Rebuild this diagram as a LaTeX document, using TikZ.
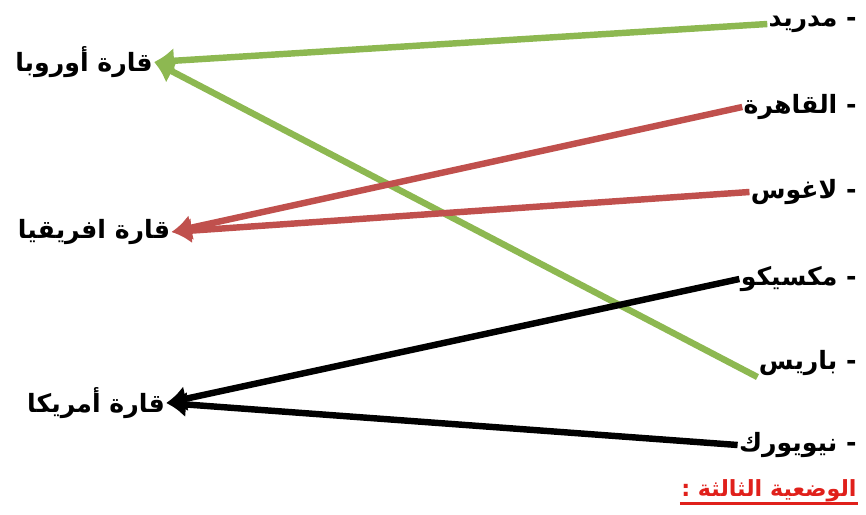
\documentclass[tikz,border=0pt]{standalone}
\usepackage{fontspec}
\usepackage{xcolor}
\usetikzlibrary{arrows.meta}
\TeXXeTstate=1
\newfontfamily\arabicfont[Script=Arabic]{DejaVu Sans}
\definecolor{LinkGreen}{HTML}{8DB851}
\definecolor{LinkRed}{HTML}{C0504D}
\definecolor{TitleRed}{HTML}{E0201B}

\begin{document}
\begin{tikzpicture}[
  x=0.03cm,y=-0.03cm,
  label/.style={inner sep=1pt,font=\arabicfont\bfseries\fontsize{21.5}{24}\selectfont},
  city/.style={label,anchor=east},
  continent/.style={label},
  link/.style={line width=5.5pt,-{Latex[length=17pt,width=22pt]}}
]
\useasboundingbox (0,0) rectangle (866,515);
% continents
\node[continent] (europe) at (84,62) {\beginR قارة أوروبا\endR};
\node[continent] (africa) at (94,232) {\beginR قارة افريقيا\endR};
\node[continent] (america) at (96,403) {\beginR قارة أمريكا\endR};
% cities
\node[city] (madrid) at (858,24) {\beginR - مدريد\endR};
\node[city] (cairo) at (858,107) {\beginR - القاهرة\endR};
\node[city] (lagos) at (858,192) {\beginR - لاغوس\endR};
\node[city] (mexico) at (858,279) {\beginR - مكسيكو\endR};
\node[city] (paris) at (858,363) {\beginR - باريس\endR};
\node[city] (newyork) at (858,445) {\beginR - نيويورك\endR};
% title
\node[label,text=TitleRed,font=\arabicfont\bfseries\fontsize{19}{22}\selectfont] (title) at (769,491) {\beginR الوضعية الثالثة :\endR};
\draw[TitleRed,line width=2.2pt] (title.south west) -- (title.south east);
% links
\draw[link,LinkGreen] (madrid.west) -- (europe.east);
\draw[link,LinkGreen] (paris.south west) -- (europe.east);
\draw[link,LinkRed] (cairo.west) -- (africa.east);
\draw[link,LinkRed] (lagos.west) -- (africa.east);
\draw[link,black] (mexico.west) -- (america.east);
\draw[link,black] (newyork.west) -- (america.east);
\end{tikzpicture}
\end{document}
